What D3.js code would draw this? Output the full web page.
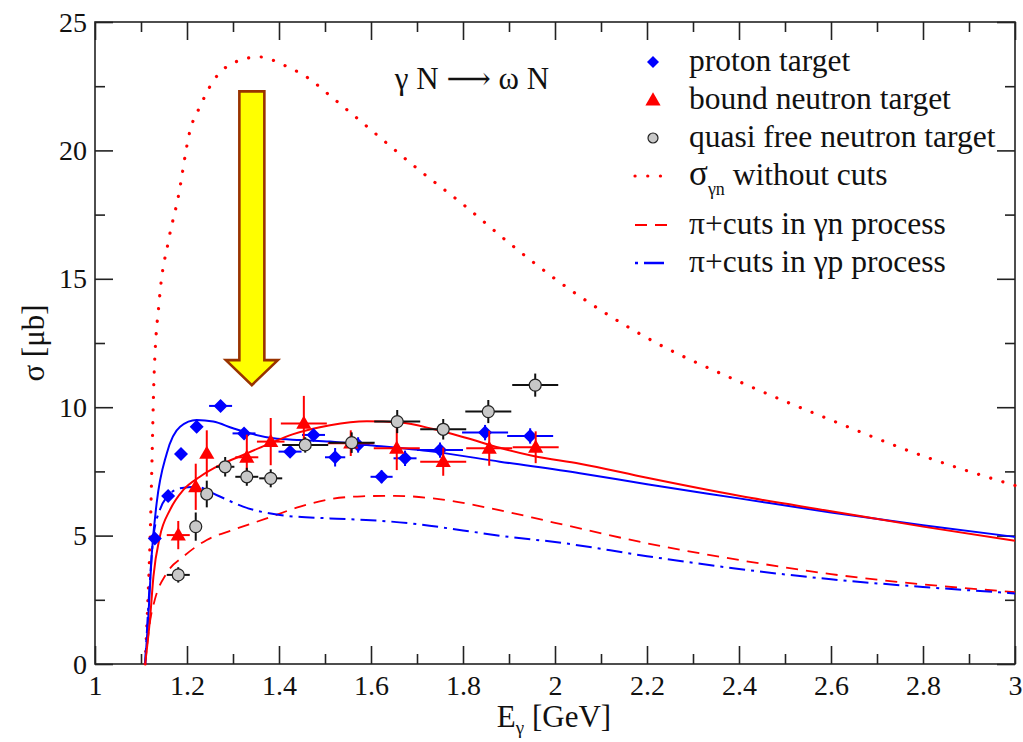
<!DOCTYPE html>
<html>
<head>
<meta charset="utf-8">
<script src="https://cdn.jsdelivr.net/npm/d3@7"></script>
<style>
  html, body { margin: 0; padding: 0; background: #fff; }
  svg { display: block; }
  text { font-family: "Liberation Serif", "Tinos", "Times New Roman", "Nimbus Roman", "DejaVu Serif", serif; fill: #111; }
</style>
</head>
<body>
<svg id="chart" width="1023" height="742"></svg>
<script>
// ---- axis ticks ----
const xMajorTicks = [1, 1.2, 1.4, 1.6, 1.8, 2, 2.2, 2.4, 2.6, 2.8, 3];
const xMinorTicks = [1.1, 1.3, 1.5, 1.7, 1.9, 2.1, 2.3, 2.5, 2.7, 2.9];
const yMajorTicks = [0, 5, 10, 15, 20, 25];
const yMinorTicks = [2.5, 7.5, 12.5, 17.5, 22.5];

// ---- model curves (E_gamma in GeV, sigma in microbarn) ----
const noCutsE = [1.109, 1.115, 1.12, 1.124, 1.128, 1.14, 1.16, 1.18, 1.207, 1.228, 1.257, 1.30, 1.357, 1.413, 1.465, 1.513, 1.58, 1.7, 1.8, 1.9, 2.0, 2.2, 2.4, 2.6, 2.8, 3.0];
const noCutsS = [0, 2.5, 5, 8, 11, 14.2, 16.5, 18.1, 20.8, 21.7, 22.7, 23.4, 23.64, 23.3, 22.8, 22.1, 21.1, 19.3, 17.9, 16.4, 15.0, 12.7, 11.0, 9.5, 8.1, 6.95];

const fullNE = [1.109, 1.12, 1.127, 1.141, 1.163, 1.192, 1.228, 1.272, 1.322, 1.373, 1.431, 1.511, 1.591, 1.663, 1.735, 1.808, 1.88, 1.953, 2.054, 2.2, 2.4, 2.6, 2.8, 3.0];
const fullNS = [0, 1.84, 3.4, 4.96, 6.0, 6.78, 7.29, 7.75, 8.14, 8.53, 8.95, 9.3, 9.45, 9.40, 9.15, 8.8, 8.42, 8.1, 7.8, 7.25, 6.55, 5.95, 5.35, 4.8];

const fullPE = [1.109, 1.116, 1.123, 1.134, 1.156, 1.185, 1.221, 1.257, 1.30, 1.337, 1.388, 1.446, 1.511, 1.591, 1.735, 1.88, 2.054, 2.2, 2.4, 2.6, 2.8, 3.0];
const fullPS = [0, 1.84, 4.18, 6.26, 8.2, 9.24, 9.5, 9.44, 9.18, 8.98, 8.79, 8.72, 8.66, 8.53, 8.27, 7.88, 7.43, 7.0, 6.45, 5.9, 5.4, 4.95];

const cutsNE = [1.109, 1.12, 1.13, 1.156, 1.192, 1.243, 1.30, 1.373, 1.446, 1.511, 1.58, 1.65, 1.735, 1.85, 2.0, 2.2, 2.4, 2.6, 2.8, 3.0];
const cutsNS = [0, 1.7, 2.5, 3.54, 4.18, 4.83, 5.22, 5.67, 6.13, 6.42, 6.53, 6.55, 6.45, 6.1, 5.5, 4.7, 4.05, 3.5, 3.1, 2.8];

const cutsPE = [1.109, 1.12, 1.127, 1.141, 1.156, 1.185, 1.221, 1.264, 1.322, 1.402, 1.511, 1.6, 1.7, 1.8, 1.9, 2.0, 2.2, 2.4, 2.6, 2.8, 3.0];
const cutsPS = [0, 3.4, 4.96, 6.0, 6.5, 6.84, 6.9, 6.58, 6.13, 5.8, 5.67, 5.6, 5.45, 5.2, 4.95, 4.75, 4.2, 3.7, 3.3, 3.0, 2.75];

// ---- measurements ----
const protonE  = [1.130, 1.159, 1.187, 1.221, 1.273, 1.324, 1.424, 1.475, 1.522, 1.572, 1.623, 1.674, 1.750, 1.848, 1.946];
const protonS  = [4.89, 6.54, 8.18, 9.24, 10.05, 8.98, 8.27, 8.92, 8.05, 8.53, 7.29, 8.01, 8.33, 9.01, 8.88];
const protonDE = [0.01, 0.01, 0.01, 0.01, 0.025, 0.025, 0.025, 0.025, 0.022, 0.025, 0.024, 0.025, 0.05, 0.05, 0.05];
const protonDS = [0.2, 0.2, 0.2, 0.2, 0.2, 0.2, 0.2, 0.2, 0.36, 0.3, 0.25, 0.3, 0.3, 0.3, 0.3];

const boundE  = [1.181, 1.219, 1.243, 1.330, 1.382, 1.454, 1.556, 1.656, 1.757, 1.857, 1.958];
const boundS  = [5.02, 6.9, 8.2, 8.05, 8.66, 9.37, 8.6, 8.4, 7.88, 8.4, 8.44];
const boundDE = [0.025, 0.0, 0.0, 0.025, 0.03, 0.05, 0.05, 0.05, 0.05, 0.05, 0.05];
const boundDS = [0.55, 0.9, 0.9, 0.88, 0.92, 1.07, 0.5, 0.85, 0.55, 0.68, 0.62];

const quasiE  = [1.181, 1.219, 1.243, 1.283, 1.330, 1.382, 1.457, 1.558, 1.657, 1.757, 1.855, 1.957];
const quasiS  = [3.47, 5.35, 6.62, 7.68, 7.29, 7.23, 8.53, 8.62, 9.44, 9.14, 9.83, 10.86];
const quasiDE = [0.025, 0.0, 0.0, 0.02, 0.025, 0.025, 0.05, 0.05, 0.05, 0.05, 0.05, 0.05];
const quasiDS = [0.3, 0.55, 0.52, 0.38, 0.35, 0.35, 0.3, 0.4, 0.45, 0.4, 0.45, 0.45];

// ---- legend entries ----
const legendLabels = ["proton target", "bound neutron target", "quasi free neutron target",
                      "without cuts", "π+cuts in γn process", "π+cuts in γp process"];

// ---- annotation arrow (E, sigma) ----
const arrowE = 1.341, arrowTopS = 22.3, arrowTipS = 10.86;

// ================= drawing =================
const SERIF = "'Liberation Serif', 'Tinos', 'Times New Roman', 'Nimbus Roman', 'DejaVu Serif', serif";
const svg = d3.select("#chart");
const margin = { left: 95, right: 8, top: 22, bottom: 78 };
const W = 1023, H = 742;

const x = d3.scaleLinear().domain([1, 3]).range([margin.left, W - margin.right]);
const y = d3.scaleLinear().domain([0, 25]).range([H - margin.bottom, margin.top]);

const RED = "#ff0000", BLUE = "#0000ff";
const axisColor = "#222";

// frame
svg.append("rect")
  .attr("x", x(1)).attr("y", y(25))
  .attr("width", x(3) - x(1)).attr("height", y(0) - y(25))
  .attr("fill", "none").attr("stroke", axisColor).attr("stroke-width", 1.6);

// inward ticks on all four sides using d3 axes
function tickAxis(axisFn, scale, ticks, size, transform) {
  const g = svg.append("g").attr("transform", transform)
    .call(axisFn(scale).tickValues(ticks).tickSize(size).tickFormat(""));
  g.select(".domain").remove();
  g.selectAll(".tick line").attr("stroke", axisColor).attr("stroke-width", 1.6);
  return g;
}
const MAJ = 18, MIN = 10;
tickAxis(d3.axisTop, x, xMajorTicks, MAJ, `translate(0,${y(0)})`);
tickAxis(d3.axisTop, x, xMinorTicks, MIN, `translate(0,${y(0)})`);
tickAxis(d3.axisBottom, x, xMajorTicks, MAJ, `translate(0,${y(25)})`);
tickAxis(d3.axisBottom, x, xMinorTicks, MIN, `translate(0,${y(25)})`);
tickAxis(d3.axisRight, y, yMajorTicks, MAJ, `translate(${x(1)},0)`);
tickAxis(d3.axisRight, y, yMinorTicks, MIN, `translate(${x(1)},0)`);
tickAxis(d3.axisLeft, y, yMajorTicks, MAJ, `translate(${x(3)},0)`);
tickAxis(d3.axisLeft, y, yMinorTicks, MIN, `translate(${x(3)},0)`);

// tick labels
const xl = svg.append("g").attr("transform", `translate(0,${y(0)})`)
  .call(d3.axisBottom(x).tickValues(xMajorTicks).tickSize(0).tickPadding(0)
        .tickFormat(d => d3.format("~g")(d)));
xl.attr("font-family", SERIF);
xl.select(".domain").remove();
xl.selectAll("text").attr("dy", null).attr("y", 31)
  .style("font-family", SERIF).style("font-size", "28px").attr("fill", "#111");

const yl = svg.append("g").attr("transform", `translate(${x(1)},0)`)
  .call(d3.axisLeft(y).tickValues(yMajorTicks).tickSize(0).tickPadding(0)
        .tickFormat(d => d3.format("~g")(d)));
yl.attr("font-family", SERIF);
yl.select(".domain").remove();
yl.selectAll("text").attr("dy", null).attr("x", -8).attr("y", 9)
  .style("font-family", SERIF).style("font-size", "28px").attr("fill", "#111");

// axis titles
const xt = svg.append("text").attr("x", 554).attr("y", 727).attr("text-anchor", "middle")
  .style("font-family", SERIF).style("font-size", "31px");
xt.append("tspan").text("E");
xt.append("tspan").attr("dy", 7).style("font-size", "19px").text("γ");
xt.append("tspan").attr("dy", -7).text(" [GeV]");

svg.append("text")
  .attr("transform", `translate(44,${(y(0) + y(25)) / 2}) rotate(-90)`)
  .attr("text-anchor", "middle").style("font-family", SERIF).style("font-size", "31px")
  .text("σ [μb]");

// reaction label
svg.append("text").attr("x", 472).attr("y", 89).attr("text-anchor", "middle")
  .style("font-family", SERIF).style("font-size", "31px")
  .text("γ N ⟶ ω N");

// ---- curves ----
const line = d3.line().x(d => x(d[0])).y(d => y(d[1])).curve(d3.curveMonotoneX);
function curve(es, ss, color, width, dash, cap) {
  svg.append("path").datum(es.map((e, i) => [e, ss[i]]))
    .attr("d", line).attr("fill", "none")
    .attr("stroke", color).attr("stroke-width", width)
    .attr("stroke-dasharray", dash).attr("stroke-linecap", cap || "butt");
}
const DOT = "0.1,12.6", DASH = "12,8", DASHDOT = "16,6,3,6";
curve(noCutsE, noCutsS, RED, 3.2, DOT, "round");
curve(cutsNE, cutsNS, RED, 1.8, DASH);
curve(cutsPE, cutsPS, BLUE, 2, DASHDOT);
curve(fullPE, fullPS, BLUE, 2, null);
curve(fullNE, fullNS, RED, 2, null);

// ---- markers ----
const diamondPath = "M0,-7L7,0L0,7L-7,0Z";
const triangle = d3.symbol().type(d3.symbolTriangle).size(100);

function errorBars(es, ss, des, dss, color) {
  const g = svg.append("g").attr("stroke", color).attr("stroke-width", 2);
  es.forEach((e, i) => {
    if (des[i] > 0) g.append("line")
      .attr("x1", x(e - des[i])).attr("x2", x(e + des[i]))
      .attr("y1", y(ss[i])).attr("y2", y(ss[i]));
    if (dss[i] > 0) g.append("line")
      .attr("x1", x(e)).attr("x2", x(e))
      .attr("y1", y(ss[i] - dss[i])).attr("y2", y(ss[i] + dss[i]));
  });
}

errorBars(protonE, protonS, protonDE, protonDS, BLUE);
svg.append("g").selectAll("path").data(protonE).join("path")
  .attr("transform", (e, i) => `translate(${x(e)},${y(protonS[i])})`)
  .attr("d", diamondPath).attr("fill", BLUE);

errorBars(boundE, boundS, boundDE, boundDS, RED);
svg.append("g").selectAll("path").data(boundE).join("path")
  .attr("transform", (e, i) => `translate(${x(e)},${y(boundS[i]) + 1})`)
  .attr("d", triangle).attr("fill", RED);

errorBars(quasiE, quasiS, quasiDE, quasiDS, "#111");
svg.append("g").selectAll("circle").data(quasiE).join("circle")
  .attr("cx", e => x(e)).attr("cy", (e, i) => y(quasiS[i])).attr("r", 6)
  .attr("fill", "#c8c8c8").attr("stroke", "#222").attr("stroke-width", 1.2);

// ---- arrow annotation ----
const ax = x(arrowE), aTop = y(arrowTopS), aTip = y(arrowTipS);
const shaftHalf = 12.5, headHalf = 26, headLen = 25;
const arrowPts = [
  [ax - shaftHalf, aTop], [ax + shaftHalf, aTop], [ax + shaftHalf, aTip - headLen],
  [ax + headHalf, aTip - headLen], [ax, aTip], [ax - headHalf, aTip - headLen],
  [ax - shaftHalf, aTip - headLen]
];
svg.append("polygon").attr("points", arrowPts.map(p => p.join(",")).join(" "))
  .attr("fill", "#ffff00").attr("stroke", "#993300").attr("stroke-width", 2.6)
  .attr("stroke-linejoin", "miter");

// ---- legend ----
const lg = svg.append("g").style("font-family", SERIF);
const symX = 653, txtX = 689;
const rowY = [62, 100, 138, 176, 225, 263];
const fs = "31.5px";

lg.append("path").attr("transform", `translate(${symX},${rowY[0]})`).attr("d", "M0,-6L6,0L0,6L-6,0Z").attr("fill", BLUE);
lg.append("path").attr("transform", `translate(${symX},${rowY[1] + 1})`).attr("d", triangle).attr("fill", RED);
lg.append("circle").attr("cx", symX).attr("cy", rowY[2]).attr("r", 5)
  .attr("fill", "#c8c8c8").attr("stroke", "#222").attr("stroke-width", 1.2);

function legendLine(row, color, width, dash, cap) {
  lg.append("line").attr("x1", 635).attr("x2", 667).attr("y1", rowY[row]).attr("y2", rowY[row])
    .attr("stroke", color).attr("stroke-width", width)
    .attr("stroke-dasharray", dash).attr("stroke-linecap", cap || "butt");
}
legendLine(3, RED, 3.2, "0.1,12.6", "round");
legendLine(4, RED, 1.8, "12,8");
legendLine(5, BLUE, 2.4, "3,6,20,4");

[0, 1, 2, 4, 5].forEach(i => {
  lg.append("text").attr("x", txtX).attr("y", rowY[i] + 9)
    .style("font-family", SERIF).style("font-size", fs).text(legendLabels[i]);
});
const sig = lg.append("text").attr("x", txtX).attr("y", rowY[3] + 9)
  .style("font-family", SERIF).style("font-size", fs);
sig.append("tspan").style("font-size", "35px").text("σ");
sig.append("tspan").attr("dy", 10).style("font-size", "18px").text("γn");
sig.append("tspan").attr("dy", -10).text(" " + legendLabels[3]);
</script>
</body>
</html>
